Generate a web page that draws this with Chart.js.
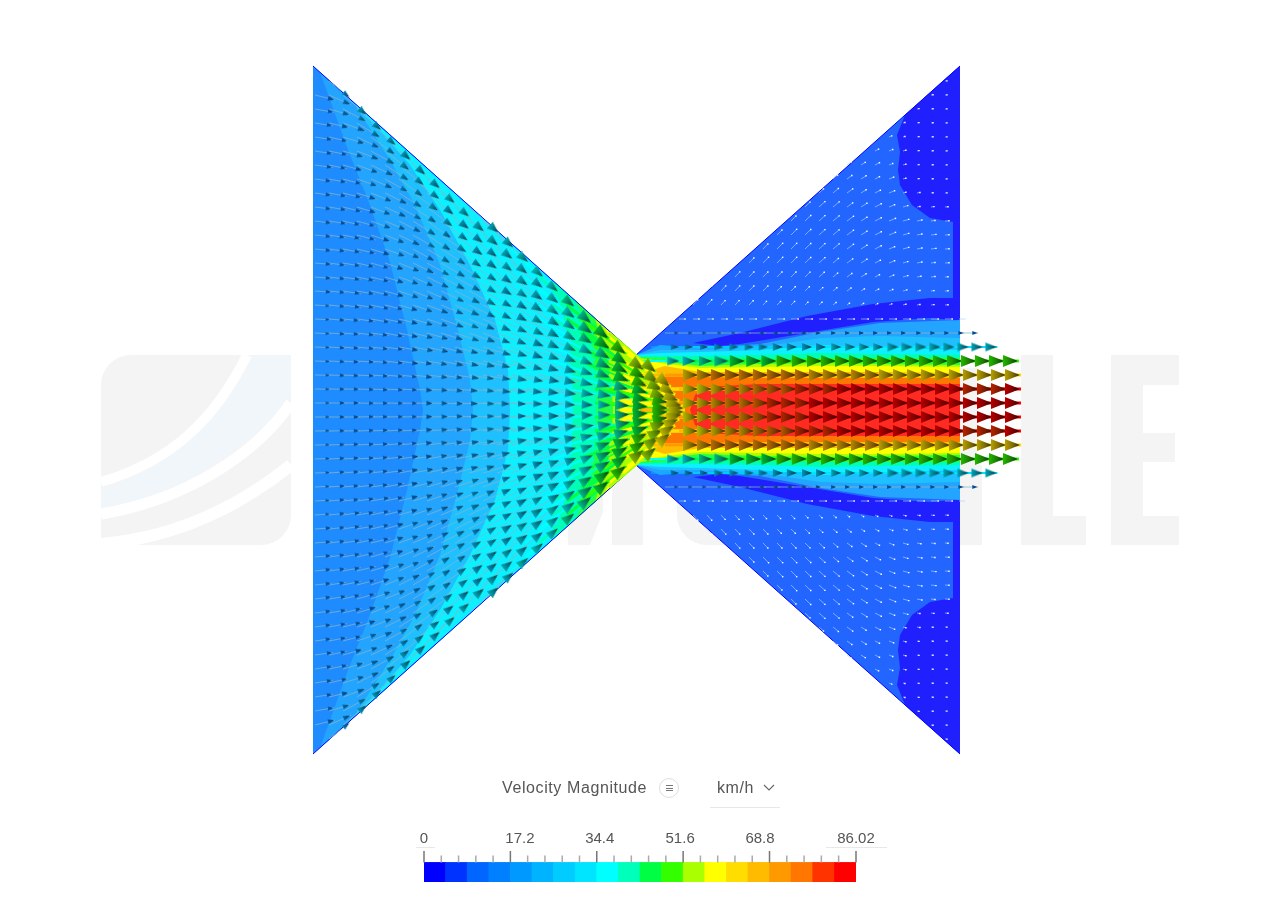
<!DOCTYPE html>
<html>
<head>
<meta charset="utf-8">
<title>Velocity Magnitude</title>
<script src="https://cdn.jsdelivr.net/npm/chart.js@4/dist/chart.umd.min.js"></script>
<style>
    html, body { margin: 0; padding: 0; background: #fff; overflow: hidden; }
    body { width: 1280px; height: 900px; position: relative; font-family: 'Liberation Sans', Arial, sans-serif; color: #555; }
    #watermark, #flow, #scale { position: absolute; }
    #watermark { left: 0; top: 0; }
    #flow { left: 0; top: 0; }
    #scale { left: 400px; top: 820px; }
    .lbl { position: absolute; font-size: 16px; line-height: 18px; white-space: nowrap; letter-spacing: 0.6px; }
    .rule { position: absolute; height: 1px; background: #e8e8e8; }
    #menu { position: absolute; left: 659px; top: 778px; width: 18px; height: 18px; border: 1.5px solid #ddd; border-radius: 50%; }
    #menu i { position: absolute; left: 6px; width: 7px; height: 1px; background: #777; }
    #chev { position: absolute; left: 763px; top: 784px; }
</style>
</head>
<body>
<svg id="watermark" width="1280" height="900">
    <path fill="#f4f4f4" d="M131 355H291V515A30 30 0 0 1 261 545H101V385A30 30 0 0 1 131 355Z"/>
    <path fill="#f1f6fb" d="M252 355H291V395C250 450 180 495 101 509V488C170 470 220 420 252 355Z"/>
    <g fill="none" stroke="#fff">
        <path stroke-width="10" d="M101 482C170 462 215 420 247 355"/>
        <path stroke-width="11" d="M101 514C185 500 255 455 291 403"/>
        <path stroke-width="12" d="M101 544C170 538 235 510 291 465"/>
    </g>
    <g fill="#f4f4f4">
        <path d="M612 355H643V545H612Z"/>
        <path d="M568 470H603V512L590 545H568Z"/>
        <path d="M677 460V515A30 30 0 0 0 707 545H800V460Z"/>
        <path d="M960 368H977V465H982V545H960Z"/>
        <path d="M1021 355H1053V516H1086V545H1021Z"/>
        <path d="M1111 355H1179V385H1143V433H1175V462H1143V516H1179V545H1111Z"/>
    </g>
</svg>
<canvas id="flow" width="1280" height="900"></canvas>

<div class="lbl" style="left:502px;top:779px">Velocity Magnitude</div>
<div id="menu"><i style="top:6px"></i><i style="top:8.5px"></i><i style="top:11px"></i></div>
<div class="lbl" style="left:717px;top:779px">km/h</div>
<svg id="chev" width="12" height="8"><path d="M1 1L6 6L11 1" fill="none" stroke="#666" stroke-width="1.1"/></svg>
<div class="rule" style="left:710px;top:807px;width:70px"></div>
<div class="rule" style="left:416px;top:847px;width:19px"></div>
<div class="rule" style="left:826px;top:847px;width:61px"></div>
<canvas id="scale" width="500" height="70"></canvas>

<script>
// seed grid of the vector plot, in duct units (x from the inlet, y from the centre line)
const colX = [2, 16, 30, 44, 58, 72, 86, 100, 114, 128, 142, 156, 170, 184, 198, 212, 226, 240, 254, 268, 282, 296, 310,
    324, 338, 352, 366, 380, 394, 408, 422, 436, 450, 464, 478, 492, 506, 520, 534, 548, 562, 576, 590, 604, 618, 632, 646];
const rowY = [7, 21, 35, 49, 63, 77, 91, 105, 119, 133, 147, 161, 175, 189, 203, 217, 231, 245, 259, 273, 287, 301, 315, 329, 343];

// speed in km/h, one list per column, centre line outwards (upper half, lower half is mirrored)
const inletSpeed = [
    [13, 13, 13, 13, 13, 13, 13, 13, 14, 14, 14, 14, 14, 14, 14, 14, 14, 15, 15, 15, 15, 16, 17],
    [14, 14, 14, 14, 14, 14, 14, 14, 14, 14, 14, 14, 14, 15, 15, 15, 15, 15, 16, 16, 17, 18, 20, 22],
    [14, 14, 14, 14, 14, 14, 14, 15, 15, 15, 15, 15, 15, 15, 16, 16, 16, 17, 18, 19, 20, 22, 26],
    [15, 15, 15, 15, 15, 15, 15, 15, 15, 15, 15, 16, 16, 16, 17, 17, 18, 19, 20, 21, 23, 27],
    [15, 15, 15, 15, 15, 15, 16, 16, 16, 16, 16, 17, 17, 18, 18, 19, 20, 21, 23, 25, 28],
    [16, 16, 16, 16, 16, 16, 16, 16, 17, 17, 17, 18, 18, 19, 20, 21, 22, 24, 26, 29],
    [16, 16, 16, 17, 17, 17, 17, 17, 18, 18, 19, 19, 20, 21, 22, 23, 25, 27, 30],
    [17, 17, 17, 17, 18, 18, 18, 18, 19, 19, 20, 21, 22, 23, 24, 26, 28, 30],
    [18, 18, 18, 18, 19, 19, 19, 20, 20, 21, 22, 23, 24, 25, 27, 29, 31],
    [19, 19, 19, 20, 20, 20, 21, 21, 22, 23, 24, 25, 26, 28, 30, 31],
    [20, 20, 21, 21, 21, 22, 22, 23, 24, 25, 26, 27, 29, 30, 32],
    [22, 22, 22, 23, 23, 24, 24, 25, 26, 27, 28, 29, 30, 32, 33],
    [23, 24, 24, 24, 25, 25, 26, 27, 28, 29, 30, 31, 32, 34],
    [25, 25, 26, 26, 27, 27, 28, 29, 30, 31, 32, 33, 35],
    [27, 27, 28, 28, 29, 30, 31, 31, 32, 33, 34, 36],
    [29, 29, 30, 30, 31, 32, 33, 34, 35, 36, 37],
    [31, 32, 32, 33, 34, 35, 36, 37, 38, 39],
    [34, 35, 35, 36, 37, 38, 39, 41, 42],
    [37, 38, 38, 39, 41, 42, 44, 45],
    [41, 42, 42, 44, 45, 47, 48],
    [45, 46, 47, 49, 50, 52],
    [50, 51, 52, 53, 54, 55],
    [56, 57, 57, 58, 58],
];
// flow angle in degrees below horizontal, same layout as inletSpeed
const inletAngle = [
    [0, 1, 1, 2, 2, 3, 3, 4, 4, 5, 5, 6, 6, 7, 7, 8, 8, 8, 9, 9, 9, 10, 14],
    [0, 1, 2, 3, 4, 4, 5, 6, 6, 7, 8, 8, 9, 9, 10, 11, 11, 12, 12, 13, 13, 16, 24, 38],
    [0, 1, 3, 4, 5, 5, 6, 8, 9, 9, 10, 11, 12, 13, 14, 14, 15, 16, 16, 17, 20, 28, 40],
    [1, 2, 3, 4, 6, 7, 8, 9, 10, 12, 13, 14, 15, 16, 17, 18, 19, 20, 21, 26, 32, 41],
    [1, 3, 4, 6, 7, 8, 10, 12, 13, 14, 16, 17, 18, 20, 21, 22, 23, 25, 29, 36, 42],
    [1, 3, 5, 7, 8, 11, 12, 14, 16, 17, 19, 20, 22, 23, 25, 26, 29, 33, 38, 42],
    [1, 3, 6, 8, 10, 12, 14, 16, 19, 20, 22, 24, 26, 27, 29, 32, 36, 39, 42],
    [1, 4, 7, 9, 11, 14, 17, 19, 22, 24, 26, 29, 30, 32, 34, 35, 37, 41],
    [1, 4, 7, 10, 13, 16, 19, 21, 24, 26, 29, 31, 33, 35, 37, 39, 41],
    [2, 5, 8, 11, 14, 17, 20, 22, 25, 27, 30, 32, 34, 36, 38, 40],
    [2, 5, 8, 11, 15, 18, 21, 23, 26, 29, 31, 34, 36, 38, 40],
    [2, 5, 9, 12, 15, 19, 22, 25, 28, 30, 33, 35, 38, 40, 41],
    [2, 6, 9, 13, 16, 20, 23, 26, 29, 32, 35, 37, 39, 41],
    [2, 6, 10, 14, 17, 21, 24, 28, 31, 34, 36, 39, 41],
    [2, 6, 11, 15, 19, 22, 26, 30, 33, 36, 38, 41],
    [2, 7, 11, 16, 20, 24, 28, 31, 35, 38, 41],
    [3, 8, 12, 17, 22, 26, 30, 34, 37, 40],
    [3, 8, 14, 19, 24, 28, 32, 36, 40],
    [3, 9, 15, 21, 26, 31, 35, 39],
    [3, 10, 17, 23, 29, 34, 38],
    [4, 12, 19, 26, 32, 37],
    [5, 13, 22, 29, 36, 40],
    [5, 16, 25, 33, 40],
];

// jet behind the throat: speed per row, columns 23 to 46 of colX
const jetSpeed = [
    [60, 63, 66, 70, 73, 76, 78, 80, 81, 82, 82, 82, 82, 82, 82, 82, 82, 82, 82, 82, 82, 82, 82, 83],
    [58, 60, 63, 66, 68, 71, 74, 76, 78, 80, 81, 82, 82, 82, 82, 82, 82, 82, 82, 82, 79, 78, 78, 83],
    [64, 68, 71, 72, 72, 72, 71, 70, 70, 68, 67, 66, 66, 65, 64, 63, 62, 62, 62, 62, 61, 61, 61, 61],
    [36, 38, 40, 42, 44, 46, 47, 48, 49, 50, 50, 50, 50, 50, 50, 50, 50, 50, 50, 50, 50, 50, 50, 50],
    [null, 24, 24, 25, 26, 27, 28, 28, 29, 29, 30, 30, 31, 31, 31, 31, 32, 32, 32, 32, 32, 32, 32, 32],
    [null, null, 12, 12, 12, 13, 13, 13, 14, 14, 14, 14, 14, 15, 15, 15, 15, 15, 15, 16, 16, 16, 16, 16],
    [null, null, null, 5, 5, 5, 5, 6, 6, 6, 6, 6, 6, 6, 6, 6, 6, 6, 6, 6, 6, 6, 6, 6],
];

// slow recirculation beside the jet: columns 27 to 45, rows 7 upwards
const wakeSpeed = [
    [7],
    [7, 7],
    [6, 7],
    [6, 7, 7],
    [6, 7, 7, 7],
    [5, 7, 7, 8, 7],
    [5, 6, 7, 8, 8, 7],
    [5, 6, 7, 8, 8, 8, 7],
    [4, 6, 7, 8, 8, 8, 8, 7],
    [4, 5, 7, 8, 8, 8, 8, 8, 6],
    [4, 5, 6, 7, 8, 8, 8, 8, 7, 6],
    [3, 5, 6, 7, 8, 8, 8, 7, 7, 6, 5],
    [3, 4, 6, 7, 7, 7, 7, 7, 6, 6, 5],
    [3, 4, 5, 6, 7, 7, 7, 7, 6, 5, 5, 4],
    [3, 4, 5, 6, 6, 7, 7, 6, 6, 5, 4, 4, 3],
    [3, 4, 5, 5, 6, 6, 6, 5, 3, 3, 3, 3, 2, 2],
    [3, 3, 4, 5, 5, 5, 5, 3, 3, 2, 2, 2, 2, 2, 2],
    [3, 3, 4, 4, 5, 5, 4, 3, 2, 2, 2, 2, 2, 2, 2, 2],
    [3, 3, 3, 4, 4, 4, 4, 3, 2, 2, 2, 2, 2, 2, 2, 2, 2],
];
const wakeAngle = [-48, -48, -47, -47, -46, -46, -45, -45, -44, -42, -40, -36, -32, -27, -22, -16, -11, -7, -4];

// duct outline and contour bands, [x, y] upper half
const leftDuct = [[0, 344], [323, 55], [323, -55], [0, -344]];
const rightDuct = [[323, 55], [647, 344], [647, -344], [323, -55]];
const outletStrip = [[640, 338], [647, 344], [647, -344], [640, -338]];
const cornerBlob = [[592, 295], [584, 275], [587, 258], [585, 240], [587, 225], [599, 205], [617, 192], [640, 188], [640, 338]];
const jetWedge = [[380, 67], [427, 77], [494, 94], [560, 106], [617, 112], [640, 112], [640, 90], [617, 92], [560, 88], [494, 77], [427, 66], [407, 64]];
const band1 = [[110, 0], [107, 20], [94, 80], [77, 148], [55, 210], [35, 260], [7, 338], [323, 55], [347, 65], [387, 62], [447, 66], [507, 78], [567, 87], [647, 90]];
const band2 = [[160, 0], [157, 30], [145, 80], [127, 145], [102, 205], [77, 250], [42, 305], [22, 324], [323, 55], [347, 60], [387, 60], [447, 63], [507, 72], [567, 74], [647, 72]];
const band3 = [[197, 0], [195, 40], [182, 90], [157, 145], [127, 200], [97, 245], [67, 280], [32, 315], [323, 55], [347, 57], [387, 58], [447, 60], [507, 65], [567, 63], [647, 60]];
const band4 = [[260, 0], [259, 35], [257, 65], [249, 100], [239, 130], [325, 54], [347, 54], [387, 54], [447, 55], [507, 57], [567, 56], [647, 55]];
const band5 = [[284, 0], [283, 25], [279, 60], [272, 90], [262, 110], [325, 53], [347, 52], [387, 49], [447, 50], [507, 52], [567, 52], [647, 52]];
const band6 = [[300, 0], [299, 20], [295, 50], [287, 75], [282, 92], [327, 52], [347, 49], [387, 44], [447, 46], [507, 47], [567, 46], [647, 45]];
const band7 = [[307, 0], [307, 20], [305, 45], [299, 65], [292, 83], [327, 51], [347, 47], [387, 42], [447, 43], [507, 44], [567, 44], [647, 43]];
const band8 = [[327, 0], [327, 25], [332, 38], [352, 44], [387, 38], [447, 38], [567, 38], [647, 37]];
const band9 = [[342, 0], [342, 20], [352, 35], [387, 33], [447, 32], [567, 32], [647, 32]];
const band10 = [[377, 0], [382, 15], [392, 23], [447, 26], [567, 26], [647, 26]];
const wallLine = [[0, 344], [323, 55], [647, 344]];

// colour scale
const scaleMax = 86.02;
const barColors = ['#0000ff', '#0033ff', '#0066ff', '#0080ff', '#0099ff', '#00b3ff', '#00ccff', '#00e5ff', '#00ffff', '#00ffbb',
    '#00ff44', '#33ff00', '#aaff00', '#ffff00', '#ffdd00', '#ffbb00', '#ff9900', '#ff7700', '#ff3300', '#ff0000'];
const barMids = [2.15, 6.45, 10.75, 15.05, 19.35, 23.65, 27.95, 32.25, 36.55, 40.85, 45.15, 49.45, 53.75, 58.05, 62.35, 66.65, 70.95, 75.25, 79.55, 83.87];
const majorTicks = [0, 17.2, 34.4, 51.6, 68.8, 86.02];
const minorTicks = [3.44, 6.88, 10.32, 13.76, 20.64, 24.08, 27.52, 30.96, 37.84, 41.28, 44.72, 48.16, 55.04, 58.48, 61.92, 65.36, 72.24, 75.68, 79.12, 82.56];
const tickLabels = ['0', '17.2', '34.4', '51.6', '68.8', '86.02'];
const labelAt = [0, 19.1, 35, 51, 66.9, 86.02];

const bandOf = v => Math.min(barColors.length - 1, Math.floor(v / 4.3));
const arrowLength = (v, kind) => kind === 'wake' ? v : Math.min(62, v * 1.2);

function shade(hex, f) {
    const n = parseInt(hex.slice(1), 16);
    return `rgb(${Math.round((n >> 16) * f)},${Math.round(((n >> 8) & 255) * f)},${Math.round((n & 255) * f)})`;
}

const sprites = {};
function headSprite(v) {
    const band = bandOf(v);
    const len = Math.max(3, Math.round(Math.min(15, v * 0.33)));
    const key = band + '_' + len;
    if (sprites[key]) return sprites[key];
    const wid = Math.max(3, Math.round(len * 0.78));
    const c = document.createElement('canvas');
    c.width = len + 2;
    c.height = wid + 2;
    const g = c.getContext('2d');
    const grad = g.createLinearGradient(1, 0, len + 1, 0);
    grad.addColorStop(0, shade(barColors[band], 0.72));
    grad.addColorStop(0.55, shade(barColors[band], 0.48));
    grad.addColorStop(1, shade(barColors[band], 0.18));
    g.fillStyle = grad;
    g.beginPath();
    g.moveTo(1, 1);
    g.lineTo(len + 1, c.height / 2);
    g.lineTo(1, c.height - 1);
    g.closePath();
    g.fill();
    sprites[key] = c;
    return c;
}

const heads = [];
const tips = [];
const shafts = { grey: [], wake: [] };
barColors.forEach((_, i) => { shafts[i] = []; });

function addArrow(x, y, v, deg, kind) {
    const rad = deg * Math.PI / 180;
    const len = arrowLength(v, kind);
    const dx = Math.cos(rad), dy = -Math.sin(rad);
    let key = bandOf(v);
    if (kind === 'wake' || v < 8) key = 'wake';
    else if (v < 20 || (kind === 'inlet' && v < 36)) key = 'grey';
    shafts[key].push({ x, y }, { x: x + dx * len, y: y + dy * len }, { x: NaN, y: NaN });
    if (key === 'wake') {
        tips.push({ x: x + dx * len, y: y + dy * len });
    } else {
        const sprite = headSprite(v);
        const back = len - sprite.width / 2;
        heads.push({ x: x + dx * back, y: y + dy * back, sprite, deg });
    }
}

function addMirrored(x, y, v, deg, kind) {
    addArrow(x, y, v, deg, kind);
    addArrow(x, -y, v, -deg, kind);
}

inletSpeed.forEach((col, c) => {
    col.forEach((v, k) => addMirrored(colX[c], rowY[k], v, inletAngle[c][k], 'inlet'));
});
jetSpeed.forEach((row, k) => {
    row.forEach((v, i) => { if (v !== null) addMirrored(colX[23 + i], rowY[k], v, 0, 'jet'); });
});
wakeSpeed.forEach((col, i) => {
    col.forEach((v, k) => addMirrored(colX[27 + i], rowY[7 + k], v, wakeAngle[i], 'wake'));
});

const toPoints = list => list.map(p => ({ x: p[0], y: p[1] }));
const mirrored = list => list.map(p => [p[0], -p[1]]);
const closed = list => list.concat(mirrored(list).reverse());

function shape(list, color) {
    return {
        data: toPoints(list),
        showLine: true,
        fill: 'shape',
        backgroundColor: color,
        borderWidth: 0,
        pointRadius: 0,
    };
}

function shaftSet(key) {
    const grey = key === 'grey', wake = key === 'wake';
    const w = grey ? 1 : wake ? 1 : (key < 6 ? 1 : key < 9 ? 2 : 3);
    return {
        data: shafts[key],
        showLine: true,
        borderColor: grey ? 'rgba(135,180,200,0.75)' : wake ? 'rgba(175,208,255,0.65)' : barColors[key],
        borderWidth: w,
        pointRadius: 0,
        spanGaps: false,
    };
}

// painted in this order, bottom first
const layers = [
    shape(leftDuct, '#1e8cff'),
    shape(rightDuct, '#2266ff'),
    shape(outletStrip, '#2020ff'),
    shape(cornerBlob, '#2020ff'),
    shape(mirrored(cornerBlob), '#2020ff'),
    shape(jetWedge, '#2020ff'),
    shape(mirrored(jetWedge), '#2020ff'),
    shape(closed(band1), '#22a4ff'),
    shape(closed(band2), '#1ec0ff'),
    shape(closed(band3), '#0cf0ff'),
    shape(closed(band4), '#00ffb0'),
    shape(closed(band5), '#22ff44'),
    shape(closed(band6), '#aaff00'),
    shape(closed(band7), '#ffff00'),
    shape(closed(band8), '#ffbb00'),
    shape(closed(band9), '#ff7700'),
    shape(closed(band10), '#ff2a22'),
    { data: toPoints(wallLine), showLine: true, borderColor: '#0000ff', borderWidth: 1, pointRadius: 0 },
    { data: toPoints(mirrored(wallLine)), showLine: true, borderColor: '#0000ff', borderWidth: 1, pointRadius: 0 },
    shaftSet('wake'),
    shaftSet('grey'),
];
barColors.forEach((_, i) => layers.push(shaftSet(i)));
layers.push({
    data: tips,
    pointStyle: 'rect',
    pointRadius: 1,
    backgroundColor: '#ffffff',
    borderWidth: 0,
});
layers.push({
    data: heads,
    pointStyle: ctx => heads[ctx.dataIndex].sprite,
    pointRotation: ctx => heads[ctx.dataIndex].deg,
    pointRadius: 3,
    borderWidth: 0,
});
layers.forEach((d, i) => { d.order = layers.length - i; });

new Chart(document.getElementById('flow'), {
    type: 'scatter',
    data: { datasets: layers },
    options: {
        responsive: false,
        animation: false,
        events: [],
        layout: { padding: 0, autoPadding: false },
        plugins: { legend: { display: false }, tooltip: { enabled: false } },
        scales: {
            x: { type: 'linear', min: -313, max: 967, display: false },
            y: { type: 'linear', min: -490, max: 410, display: false },
        },
    },
});

const tickSegments = (list, top) => list.flatMap(v => [{ x: v, y: 19.6 }, { x: v, y: top }, { x: NaN, y: NaN }]);

new Chart(document.getElementById('scale'), {
    type: 'bar',
    data: {
        datasets: [
            {
                data: barMids.map(x => ({ x, y: [0, 19.6] })),
                backgroundColor: barColors,
                barPercentage: 1,
                categoryPercentage: 1,
                order: 2,
            },
            { type: 'line', data: tickSegments(minorTicks, 26.5), borderColor: '#aaaaaa', borderWidth: 1.5, pointRadius: 0, clip: false, order: 1 },
            { type: 'line', data: tickSegments(majorTicks, 31), borderColor: '#777777', borderWidth: 1.5, pointRadius: 0, clip: false, order: 0 },
        ],
    },
    options: {
        responsive: false,
        animation: false,
        events: [],
        layout: { padding: { left: 24, right: 44, top: 0, bottom: 8 }, autoPadding: false },
        plugins: { legend: { display: false }, tooltip: { enabled: false } },
        scales: {
            x: {
                type: 'linear',
                position: 'top',
                min: 0,
                max: scaleMax,
                offset: false,
                grid: { display: false, drawTicks: false },
                border: { display: false },
                ticks: {
                    autoSkip: false,
                    maxRotation: 0,
                    padding: 3,
                    color: '#555',
                    font: { family: "'Liberation Sans', Arial, sans-serif", size: 15 },
                    callback: (v, i) => tickLabels[i],
                },
                afterBuildTicks: s => { s.ticks = labelAt.map(value => ({ value })); },
                afterFit: s => { s.height = 31; },
            },
            y: { type: 'linear', min: 0, max: 31, display: false },
        },
    },
});
</script>
</body>
</html>
